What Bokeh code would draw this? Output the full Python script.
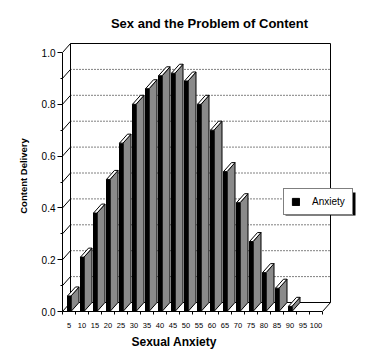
from bokeh.plotting import figure
from bokeh.models import FixedTicker, Range1d, Title, Legend, LegendItem, PrintfTickFormatter
from bokeh.embed import file_html
from bokeh.resources import INLINE

# ---- data ----
categories = ["5", "10", "15", "20", "25", "30", "35", "40", "45", "50",
              "55", "60", "65", "70", "75", "80", "85", "90", "95", "100"]
anxiety = [0.06, 0.21, 0.38, 0.51, 0.65, 0.80, 0.86, 0.91, 0.92, 0.89,
           0.80, 0.70, 0.54, 0.42, 0.27, 0.15, 0.09, 0.02, 0.0, 0.0]
y_ticks = [0.0, 0.2, 0.4, 0.6, 0.8, 1.0]
y_minor = [0.1, 0.3, 0.5, 0.7, 0.9]
title_text = "Sex and the Problem of Content"
x_title = "Sexual Anxiety"
y_title = "Content Delivery"
series_name = "Anxiety"

# ---- geometry (style) ----
PX_X = 13.0     # pixels per category
PX_Y = 259.0    # pixels per unit value
DX = 8 / PX_X   # depth offset in category units
DY = 9 / PX_Y   # depth offset in value units
F0, F1 = 5 / PX_X, 8.5 / PX_X

n = len(categories)
xc = list(range(1, n + 1))
x_lo, x_hi = 0.5, n + 0.5
y_top = max(y_ticks)

FONT = "Liberation Sans"

p = figure(width=366, height=355, output_backend="svg", toolbar_location=None,
           x_range=Range1d(x_lo, x_lo + 294 / PX_X), y_range=Range1d(0, 271 / PX_Y),
           min_border_left=62, min_border_right=10, min_border_top=40, min_border_bottom=44)
p.outline_line_color = None
p.grid.visible = False
p.background_fill_color = "white"
p.border_fill_color = "white"

# ---- walls ----
grid_vals = sorted(y_ticks + y_minor)
inner = [v for v in grid_vals if 0 < v < y_top]
p.segment(x0=[x_lo + DX] * len(inner), y0=[v + DY for v in inner],
          x1=[x_hi + DX] * len(inner), y1=[v + DY for v in inner],
          line_color="black", line_width=1, line_dash="1 2")
p.segment(x0=[x_lo] * len(grid_vals), y0=grid_vals,
          x1=[x_lo + DX] * len(grid_vals), y1=[v + DY for v in grid_vals],
          line_color="black", line_width=1)
p.multi_line(
    xs=[[x_lo + DX, x_lo + DX, x_hi + DX, x_hi + DX, x_lo + DX],
        [x_hi, x_hi + DX]],
    ys=[[DY, y_top + DY, y_top + DY, DY, DY],
        [0, DY]],
    line_color="black", line_width=1)

# ---- bars ----
side_xs, side_ys, top_xs, top_ys = [], [], [], []
fl, fr, ft = [], [], []
for k, v in enumerate(anxiety):
    if v <= 0:
        continue
    xl = k + x_lo + F0
    xr = k + x_lo + F1
    side_xs.append([xr, xr + DX, xr + DX, xr])
    side_ys.append([0, DY, v + DY, v])
    top_xs.append([xl, xr, xr + DX, xl + DX])
    top_ys.append([v, v, v + DY, v + DY])
    fl.append(xl); fr.append(xr); ft.append(v)

p.patches(side_xs, side_ys, fill_color="#8a8a8a", line_color="black", line_width=1)
front = p.quad(left=fl, right=fr, bottom=[0] * len(fl), top=ft,
               fill_color="black", line_color="black", line_width=1)
p.patches(top_xs, top_ys, fill_color="white", line_color="black", line_width=1)

# ---- legend shadow ----
p.quad(left=[x_lo + (285 - 62) / PX_X], right=[x_lo + (355 - 62) / PX_X],
       bottom=[(311 - 215) / PX_Y], top=[(311 - 192) / PX_Y],
       fill_color="black", line_color=None)

# ---- axes ----
ya = p.yaxis[0]
ya.ticker = FixedTicker(ticks=y_ticks, minor_ticks=y_minor)
ya.formatter = PrintfTickFormatter(format="%.1f")
ya.bounds = (0, y_top)
ya.axis_line_color = "black"
ya.major_tick_in = 0
ya.major_tick_out = 5
ya.minor_tick_in = 0
ya.minor_tick_out = 2
ya.major_tick_line_color = "black"
ya.minor_tick_line_color = "black"
ya.major_label_standoff = 2
ya.major_label_text_font = FONT
ya.major_label_text_font_size = "10px"
ya.major_label_text_color = "black"
ya.axis_label = y_title
ya.axis_label_text_font = FONT
ya.axis_label_text_font_style = "bold"
ya.axis_label_text_font_size = "9.5px"
ya.axis_label_text_color = "black"
ya.axis_label_standoff = 10

xa = p.xaxis[0]
xa.ticker = FixedTicker(ticks=xc, minor_ticks=[x_lo + k for k in range(n + 1)])
xa.major_label_overrides = {x: c for x, c in zip(xc, categories)}
xa.bounds = (x_lo, x_hi)
xa.axis_line_color = "black"
xa.major_tick_in = 0
xa.major_tick_out = 0
xa.minor_tick_in = 0
xa.minor_tick_out = 3
xa.minor_tick_line_color = "black"
xa.major_label_standoff = 8
xa.major_label_text_font = FONT
xa.major_label_text_font_size = "7.5px"
xa.major_label_text_color = "black"

p.add_layout(Title(text=x_title, align="left", offset=69, standoff=5,
                   text_font=FONT, text_font_style="bold", text_font_size="12px",
                   text_color="black"), "below")

# ---- title ----
p.title.text = title_text
p.title.align = "center"
p.title.text_font = FONT
p.title.text_font_style = "bold"
p.title.text_font_size = "13px"
p.title.text_color = "black"
p.title.standoff = 19

# ---- legend ----
legend = Legend(items=[LegendItem(label=series_name, renderers=[front])],
                location=(221, 96), orientation="vertical",
                border_line_color="black", border_line_width=1,
                background_fill_color="white", background_fill_alpha=1,
                padding=7, margin=0, spacing=0,
                glyph_width=9, glyph_height=9, label_height=9,
                label_standoff=12, label_text_font=FONT,
                label_text_font_size="10px", label_text_color="black")
p.add_layout(legend)

open("out.html", "w").write(file_html(p, INLINE))
